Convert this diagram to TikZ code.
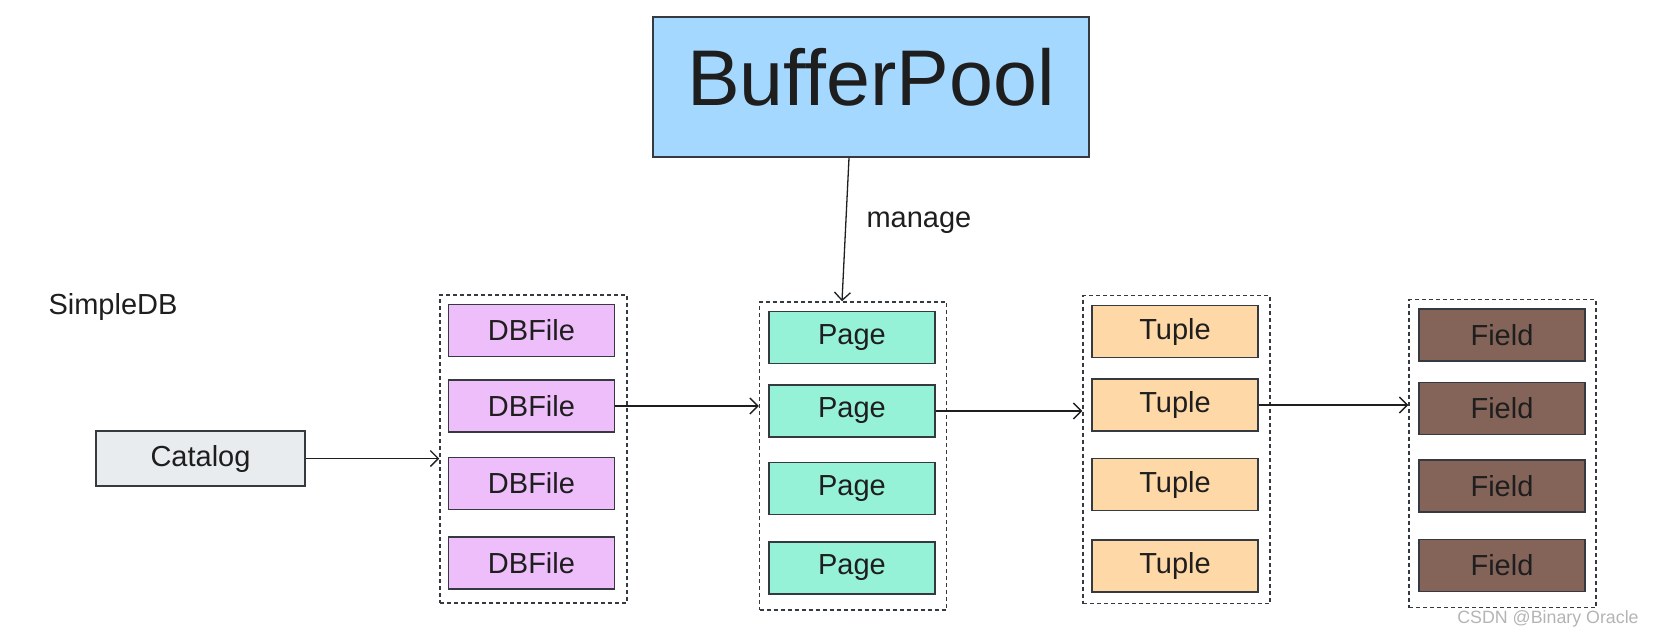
\documentclass[tikz,border=0pt]{standalone}
\usepackage{fontspec}
\setmainfont{Liberation Sans}
\usetikzlibrary{positioning,arrows.meta}

\definecolor{poolblue}{HTML}{A5D8FF}
\definecolor{catalogfill}{HTML}{E9ECEF}
\definecolor{filefill}{HTML}{EEBEFA}
\definecolor{pagefill}{HTML}{96F2D7}
\definecolor{tuplefill}{HTML}{FFD8A8}
\definecolor{fieldfill}{HTML}{846358}
\definecolor{edge}{HTML}{343A40}
\definecolor{ink}{HTML}{1E1E1E}
\definecolor{markgray}{HTML}{B4B4B4}

\begin{document}
\begin{tikzpicture}[x=0.5pt, y=-0.5pt, >={Straight Barb[length=4pt,width=8pt]},
  every node/.style={font=\fontsize{14.5}{17}\selectfont, text=ink},
  box/.style={draw=edge, line width=0.75pt, minimum width=83pt, minimum height=26pt, inner sep=0pt},
  group/.style={draw=edge, line width=0.75pt, dash pattern=on 2pt off 1.5pt, minimum width=93.5pt, minimum height=154pt},
  link/.style={->, draw=ink, line width=0.65pt}]
  \useasboundingbox (0,0) rectangle (1654,638);

  \node (pool) [box, fill=poolblue, minimum width=218pt, minimum height=70pt, text depth=10.5pt, font=\fontsize{39.5}{44}\selectfont] at (871,87) {BufferPool\hspace{5pt}};
  \node (simpledb) at (113,307) {SimpleDB};
  \node (catalog) [box, fill=catalogfill, minimum width=104.5pt, minimum height=27.5pt] at (200.5,458.5) {Catalog};

  % dashed groups
  \node (files) [group] at (533.5,449) {};
  \node (pages) [group] at (853,456) {};
  \node (tuples) [group] at (1176.5,449.5) {};
  \node (fields) [group] at (1502.5,453.5) {};

  \node (file1) [box, fill=filefill] at (531.5,330.5) {DBFile};
  \node (file2) [box, fill=filefill, below=11pt of file1] {DBFile};
  \node (file3) [box, fill=filefill, below=12pt of file2] {DBFile};
  \node (file4) [box, fill=filefill, below=13pt of file3] {DBFile};

  \node (page1) [box, fill=pagefill] at (852,337.5) {Page};
  \node (page2) [box, fill=pagefill, below=10pt of page1] {Page};
  \node (page3) [box, fill=pagefill, below=12pt of page2] {Page};
  \node (page4) [box, fill=pagefill, below=13pt of page3] {Page};

  \node (tuple1) [box, fill=tuplefill] at (1175,331.5) {Tuple};
  \node (tuple2) [box, fill=tuplefill, below=10pt of tuple1] {Tuple};
  \node (tuple3) [box, fill=tuplefill, below=13pt of tuple2] {Tuple};
  \node (tuple4) [box, fill=tuplefill, below=14pt of tuple3] {Tuple};

  \node (field1) [box, fill=fieldfill] at (1502,335) {Field};
  \node (field2) [box, fill=fieldfill, below=10pt of field1] {Field};
  \node (field3) [box, fill=fieldfill, below=12pt of field2] {Field};
  \node (field4) [box, fill=fieldfill, below=13pt of field3] {Field};

  \node (mark) [font=\fontsize{8.9}{10}\selectfont, text=markgray] at (1548,619) {CSDN @Binary Oracle};

  \draw[link] ([xshift=-11pt]pool.south) -- node (manage) [pos=0.45, right=10pt, inner sep=0pt] {manage} ([xshift=-5.5pt]pages.north);
  \draw[link] (catalog) -- (catalog -| files.west);
  \draw[link] (file2) -- (file2 -| pages.west);
  \draw[link] (page2) -- (page2 -| tuples.west);
  \draw[link] (tuple2) -- (tuple2 -| fields.west);
\end{tikzpicture}
\end{document}
